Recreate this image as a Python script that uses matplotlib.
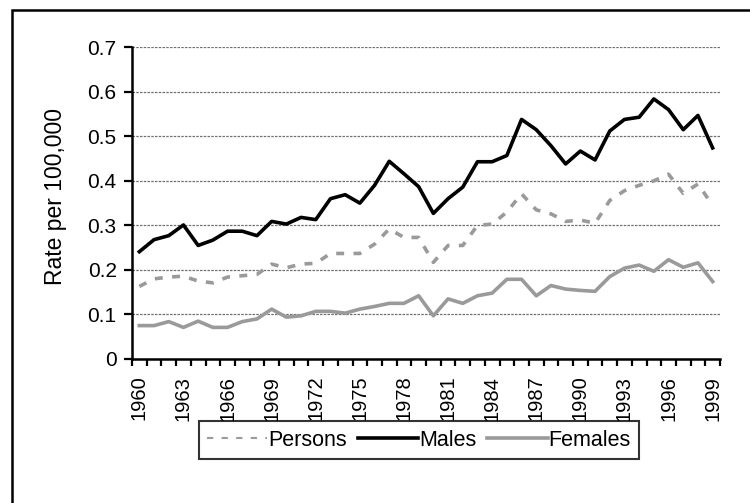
import matplotlib
matplotlib.use("Agg")
import matplotlib.pyplot as plt
from matplotlib.lines import Line2D
from matplotlib.patches import Rectangle

years = list(range(1960, 2000))
persons = [0.163, 0.180, 0.184, 0.186, 0.175, 0.171, 0.184, 0.187, 0.190, 0.213,
           0.205, 0.213, 0.215, 0.237, 0.237, 0.237, 0.258, 0.292, 0.273, 0.273,
           0.217, 0.255, 0.255, 0.300, 0.303, 0.330, 0.371, 0.335, 0.326, 0.309,
           0.312, 0.305, 0.356, 0.378, 0.390, 0.400, 0.415, 0.372, 0.393, 0.345]
males = [0.241, 0.268, 0.277, 0.301, 0.255, 0.267, 0.287, 0.287, 0.277, 0.309,
         0.303, 0.318, 0.313, 0.360, 0.369, 0.350, 0.390, 0.444, 0.416, 0.387,
         0.327, 0.360, 0.386, 0.443, 0.443, 0.457, 0.538, 0.515, 0.479, 0.438,
         0.467, 0.447, 0.512, 0.538, 0.543, 0.584, 0.560, 0.515, 0.547, 0.474]
females = [0.075, 0.075, 0.084, 0.071, 0.085, 0.071, 0.071, 0.084, 0.090, 0.112,
           0.094, 0.097, 0.107, 0.107, 0.103, 0.112, 0.118, 0.125, 0.125, 0.142,
           0.097, 0.135, 0.125, 0.142, 0.148, 0.179, 0.179, 0.142, 0.165, 0.157,
           0.154, 0.152, 0.185, 0.204, 0.211, 0.197, 0.223, 0.206, 0.216, 0.174]
y_ticks = [0, 0.1, 0.2, 0.3, 0.4, 0.5, 0.6, 0.7]
y_labels = ["0", "0.1", "0.2", "0.3", "0.4", "0.5", "0.6", "0.7"]
x_label_years = list(range(1960, 2000, 3))
y_title = "Rate per 100,000"
series_names = ["Persons", "Males", "Females"]

plt.rcParams['font.family'] = ['Liberation Sans', 'DejaVu Sans']

W, H = 750, 503
fig = plt.figure(figsize=(W / 100, H / 100), dpi=100)
ax = fig.add_axes([132 / W, 1 - 359 / H, (720 - 132) / W, (359 - 47.3) / H])

x = list(range(len(years)))
gray = "#9a9a9a"
ax.plot(x, persons, color=gray, lw=2.6, dashes=(2.2, 2.6), zorder=3)
ax.plot(x, males, color="black", lw=2.6, zorder=4)
ax.plot(x, females, color=gray, lw=2.6, zorder=3)

ax.set_ylim(0, 0.7)
ax.set_xlim(-0.5, len(years) - 0.5)
ax.set_yticks(y_ticks)
ax.set_yticklabels(y_labels, fontsize=15)
ax.yaxis.grid(True, color="#707070", lw=0.9, ls=(0, (2, 1)))
ax.set_axisbelow(True)

# ticks at category boundaries, labels at every third category
ax.set_xticks([i - 0.5 for i in range(len(years) + 1)])
ax.set_xticklabels([])
ax.set_xticks([years.index(y) for y in x_label_years], minor=True)
ax.set_xticklabels([str(y) for y in x_label_years], minor=True, rotation=90, fontsize=14.5)
ax.tick_params(axis='x', which='major', direction='out', length=5, width=1.6)
ax.tick_params(axis='x', which='minor', length=0, pad=12)
ax.tick_params(axis='y', direction='out', length=6, width=1.6, pad=5)

for s in ["top", "right"]:
    ax.spines[s].set_visible(False)
for s in ["left", "bottom"]:
    ax.spines[s].set_linewidth(1.8)

ax.set_ylabel(y_title, fontsize=16.5, labelpad=6)
ax.yaxis.set_label_coords(-65 / 588, 0.52)

handles = [
    Line2D([], [], color=gray, lw=1.5, dashes=(3, 4)),
    Line2D([], [], color="black", lw=2.6),
    Line2D([], [], color=gray, lw=2.6),
]
leg = fig.legend(handles, series_names, loc="center",
                 bbox_to_anchor=(419 / W, 1 - 440 / H), ncol=3, fontsize=15.5,
                 frameon=True, fancybox=False, edgecolor="black",
                 handlelength=2.8, handletextpad=0.05, columnspacing=0.5,
                 borderpad=0.4, borderaxespad=0)
leg.get_frame().set_linewidth(1.5)

fig.patches.append(Rectangle((12 / W, -0.2), 1.5, 0.2 + 1 - 10 / H,
                             transform=fig.transFigure, fill=False,
                             edgecolor="black", lw=1.8))

fig.savefig("out.png", dpi=100)
